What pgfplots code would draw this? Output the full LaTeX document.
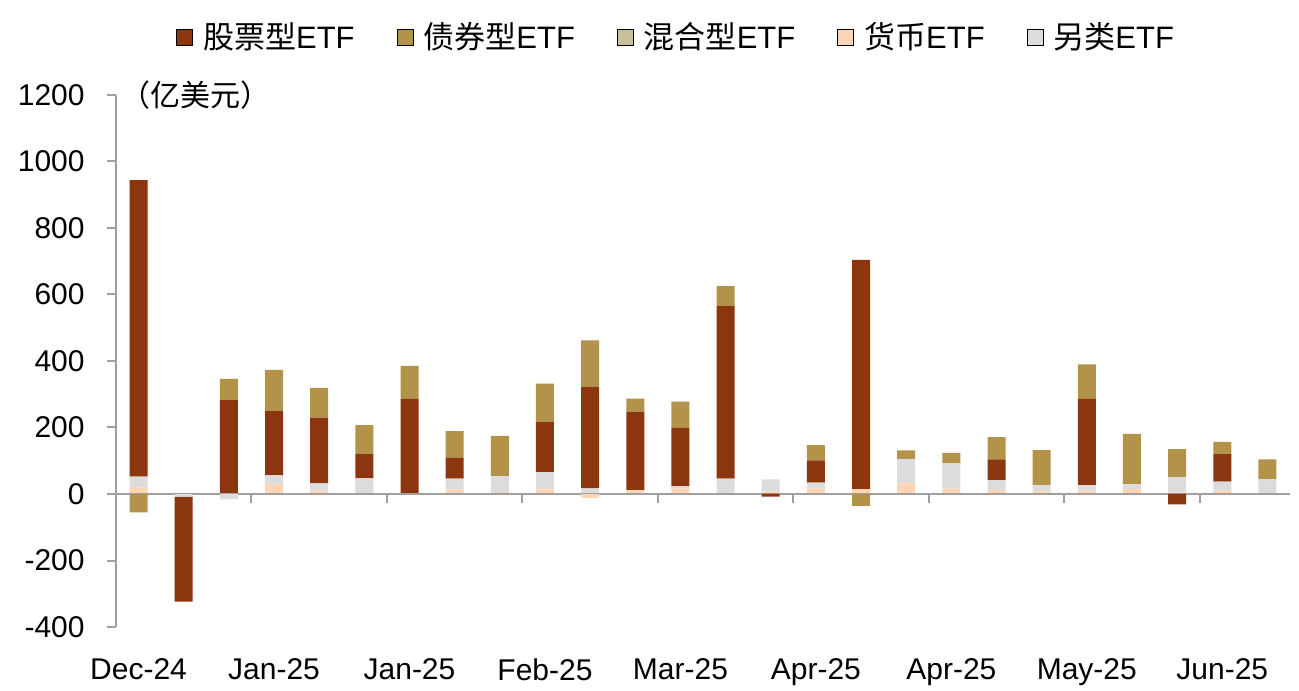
\documentclass[border=0pt]{standalone}
\usepackage{pgfplots}
\pgfplotsset{compat=1.18}
\usepackage{pgfplotstable}
\usepackage{fontspec}
\setmainfont{Liberation Sans}
\newfontfamily\cjk{Noto Sans CJK SC}
\definecolor{stockc}{RGB}{139,54,15}
\definecolor{bondc}{RGB}{179,146,73}
\definecolor{mixc}{RGB}{200,192,155}
\definecolor{peachc}{RGB}{253,213,180}
\definecolor{greyc}{RGB}{220,220,220}
\definecolor{axgray}{RGB}{160,160,160}

% positive parts stacked bottom-up: peach, grey, mixed, stock, bond
% negative parts stacked downward in a second, overlaid axis
\pgfplotstableread{
x  peach grey mixed stock bond npeach ngrey nstock nbond
1  20    32   0     892   0    0      0     0      -55
2  4     0    0     0     0    0      -8    -316   0
3  0     0    0     282   64   0      -16   0      0
4  29    28   0     192   124  0      0     0      0
5  10    22   0     198   89   0      0     0      0
6  0     47   0     73    87   0      0     0      0
7  2     0    0     284   99   0      0     0      0
8  14    32   0     63    80   0      0     0      0
9  6     48   0     0     121  0      0     0      0
10 14    52   0     150   116  0      0     0      0
11 0     17   0     306   139  -13    0     0      0
12 12    0    0     236   39   0      0     0      0
13 16    7    0     176   79   0      0     0      0
14 0     46   0     519   60   0      0     0      0
15 8     36   0     0     0    0      0     -8     0
16 17    17   0     67    46   0      0     0      0
17 15    0    0     689   0    0      0     0      -36
18 32    74   0     0     25   0      0     0      0
19 16    76   0     0     32   0      0     0      0
20 12    30   0     62    67   0      0     0      0
21 8     19   0     0     105  0      0     0      0
22 10    17   0     259   104  0      0     0      0
23 15    15   0     0     151  0      0     0      0
24 5     46   0     0     84   0      0     -31    0
25 10    27   0     83    37   0      0     0      0
26 0     45   0     0     59   0      0     0      0
}\etfdata

\pgfplotsset{
  etfbase/.style={
    at={(0,0)}, anchor=south west,
    scale only axis, width=587pt, height=266pt,
    xmin=0.5, xmax=26.5, ymin=-400, ymax=1200,
    enlargelimits=false,
    ybar stacked, bar width=9pt,
  }
}

\begin{document}
\begin{tikzpicture}[font=\fontsize{15}{18}\selectfont]
\path[use as bounding box] (-58pt,-31.5pt) rectangle (591.5pt,313.5pt);
\begin{axis}[
  etfbase, name=ax,
  axis y line*=left, axis x line*=bottom,
  x axis line style={draw=none},
  y axis line style={-, axgray, line width=1pt},
  ytick={-400,-200,0,200,400,600,800,1000,1200},
  yticklabels={-400,-200,0,200,400,600,800,1000,1200},
  ytick style={axgray, line width=1pt},
  tick align=outside, major tick length=4.5pt,
  yticklabel style={inner sep=0pt, anchor=east, xshift=-11pt},
  xtick={1,4,7,10,13,16,19,22,25},
  xticklabels={Dec-24,Jan-25,Jan-25,Feb-25,Mar-25,Apr-25,Apr-25,May-25,Jun-25},
  xtick style={draw=none},
  xticklabel style={inner sep=0pt, anchor=north, yshift=-11pt},
  legend columns=5,
  legend image code/.code={\fill[#1] (0pt,-4pt) rectangle (8pt,4pt);},
  legend style={draw=none, fill=none, at={(0.478,1)}, anchor=center, yshift=29pt,
    font=\fontsize{15.5}{18}\selectfont,
    /tikz/every even column/.append style={column sep=19pt},
    /tikz/every odd column/.append style={column sep=3pt}},
]
\addplot[fill=peachc, draw=none, forget plot] table[x=x, y=peach] {\etfdata};
\addplot[fill=greyc, draw=none, forget plot] table[x=x, y=grey] {\etfdata};
\addplot[fill=mixc, draw=none, forget plot] table[x=x, y=mixed] {\etfdata};
\addplot[fill=stockc, draw=none, forget plot] table[x=x, y=stock] {\etfdata};
\addplot[fill=bondc, draw=none, forget plot] table[x=x, y=bond] {\etfdata};

\addlegendimage{fill=stockc}\addlegendentry{{\cjk 股票型}ETF}
\addlegendimage{fill=bondc}\addlegendentry{{\cjk 债券型}ETF}
\addlegendimage{fill=mixc}\addlegendentry{{\cjk 混合型}ETF}
\addlegendimage{fill=peachc}\addlegendentry{{\cjk 货币}ETF}
\addlegendimage{fill=greyc}\addlegendentry{{\cjk 另类}ETF}
\end{axis}
\begin{axis}[etfbase, hide axis]
\addplot[fill=peachc, draw=none, forget plot] table[x=x, y=npeach] {\etfdata};
\addplot[fill=greyc, draw=none, forget plot] table[x=x, y=ngrey] {\etfdata};
\addplot[fill=stockc, draw=none, forget plot] table[x=x, y=nstock] {\etfdata};
\addplot[fill=bondc, draw=none, forget plot] table[x=x, y=nbond] {\etfdata};
\draw[axgray, line width=1pt] ({rel axis cs:0,0}|-{axis cs:0,0}) -- ({rel axis cs:1,0}|-{axis cs:0,0});
\pgfplotsinvokeforeach{3.5,6.5,9.5,12.5,15.5,18.5,21.5,24.5}{
  \draw[axgray, line width=1pt] (axis cs:#1,0) -- ([yshift=-4.5pt]axis cs:#1,0);
}
\end{axis}
\node[anchor=west, inner sep=0pt, xshift=2pt] at (ax.north west) {\cjk （亿美元）};
\end{tikzpicture}
\end{document}
